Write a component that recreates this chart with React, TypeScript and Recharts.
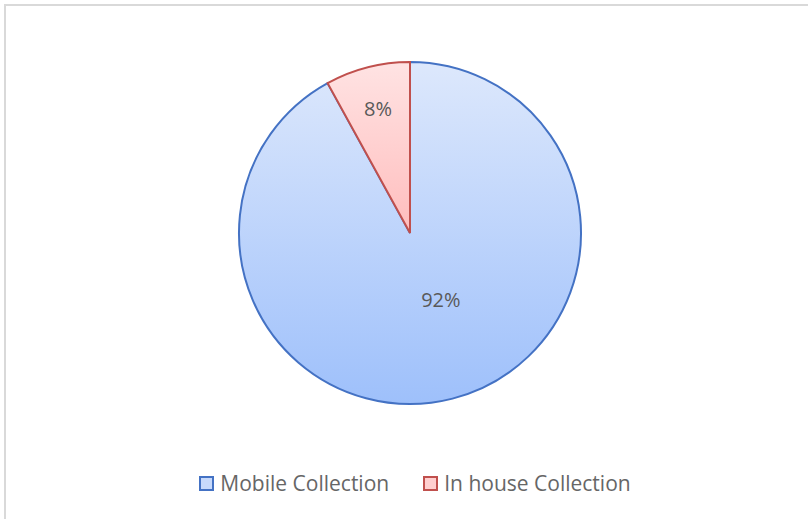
import React from 'react';
import { PieChart, Pie, Cell } from 'recharts';

const categories = ['Mobile Collection', 'In house Collection'];
const shares = [92, 8];

const fills = ['url(#gradBlue)', 'url(#gradRed)'];
const strokes = ['#4472c4', '#c0504d'];
const legendFills = ['#c7d9fb', '#ffcfcf'];

const data = categories.map((name, i) => ({ name, value: shares[i] }));

const RADIAN = Math.PI / 180;

// Excel puts the big slice label off-centre, a bit toward the middle
const renderLabel = ({ cx, cy, midAngle, outerRadius, percent, value }: any) => {
  const big = percent > 0.5;
  const r = outerRadius * (big ? 0.43 : 0.75);
  const a = midAngle + (big ? 10.4 : 0);
  const x = cx + r * Math.cos(-a * RADIAN);
  const y = cy + r * Math.sin(-a * RADIAN);
  return (
    <text
      x={x}
      y={y}
      fill="#595959"
      textAnchor="middle"
      dominantBaseline="central"
      fontSize={20}
      fontFamily="'Open Sans', sans-serif"
    >
      {`${value}%`}
    </text>
  );
};

const ChartLegend = () => (
  <div
    style={{
      position: 'absolute',
      top: 469,
      left: 11,
      width: 808,
      display: 'flex',
      justifyContent: 'center',
      gap: 34,
      fontFamily: "'Open Sans', sans-serif",
      fontSize: 21,
      color: '#666666',
    }}
  >
    {categories.map((name, i) => (
      <div key={`legend-${i}`} style={{ display: 'flex', alignItems: 'center' }}>
        <span
          style={{
            display: 'inline-block',
            width: 11,
            height: 11,
            background: legendFills[i],
            border: `2px solid ${strokes[i]}`,
            marginRight: 6,
          }}
        />
        <span>{name}</span>
      </div>
    ))}
  </div>
);

export default function App() {
  return (
    <div style={{ position: 'absolute', left: 0, top: 0, width: 808, height: 519, background: '#fff', overflow: 'hidden' }}>
      <div style={{ position: 'absolute', left: 4, top: 4, width: 820, height: 530, border: '2px solid #d9d9d9' }} />
      <PieChart
        width={808}
        height={519}
        margin={{ top: 0, right: 0, bottom: 0, left: 0 }}
        style={{ position: 'absolute', left: 0, top: 0 }}
      >
        <defs>
          <linearGradient id="gradBlue" x1="0" y1="0" x2="0" y2="1">
            <stop offset="0%" stopColor="#dde8fc" />
            <stop offset="100%" stopColor="#9ec0fb" />
          </linearGradient>
          <linearGradient id="gradRed" x1="0" y1="0" x2="0" y2="1">
            <stop offset="0%" stopColor="#ffe3e3" />
            <stop offset="100%" stopColor="#ffbdbd" />
          </linearGradient>
        </defs>
        <Pie
          data={data}
          dataKey="value"
          nameKey="name"
          cx={410}
          cy={233}
          outerRadius={171}
          startAngle={90}
          endAngle={-270}
          labelLine={false}
          label={renderLabel}
          isAnimationActive={false}
        >
          {data.map((entry, index) => (
            <Cell key={`cell-${index}`} fill={fills[index]} stroke={strokes[index]} strokeWidth={2} />
          ))}
        </Pie>
      </PieChart>
      <ChartLegend />
    </div>
  );
}
